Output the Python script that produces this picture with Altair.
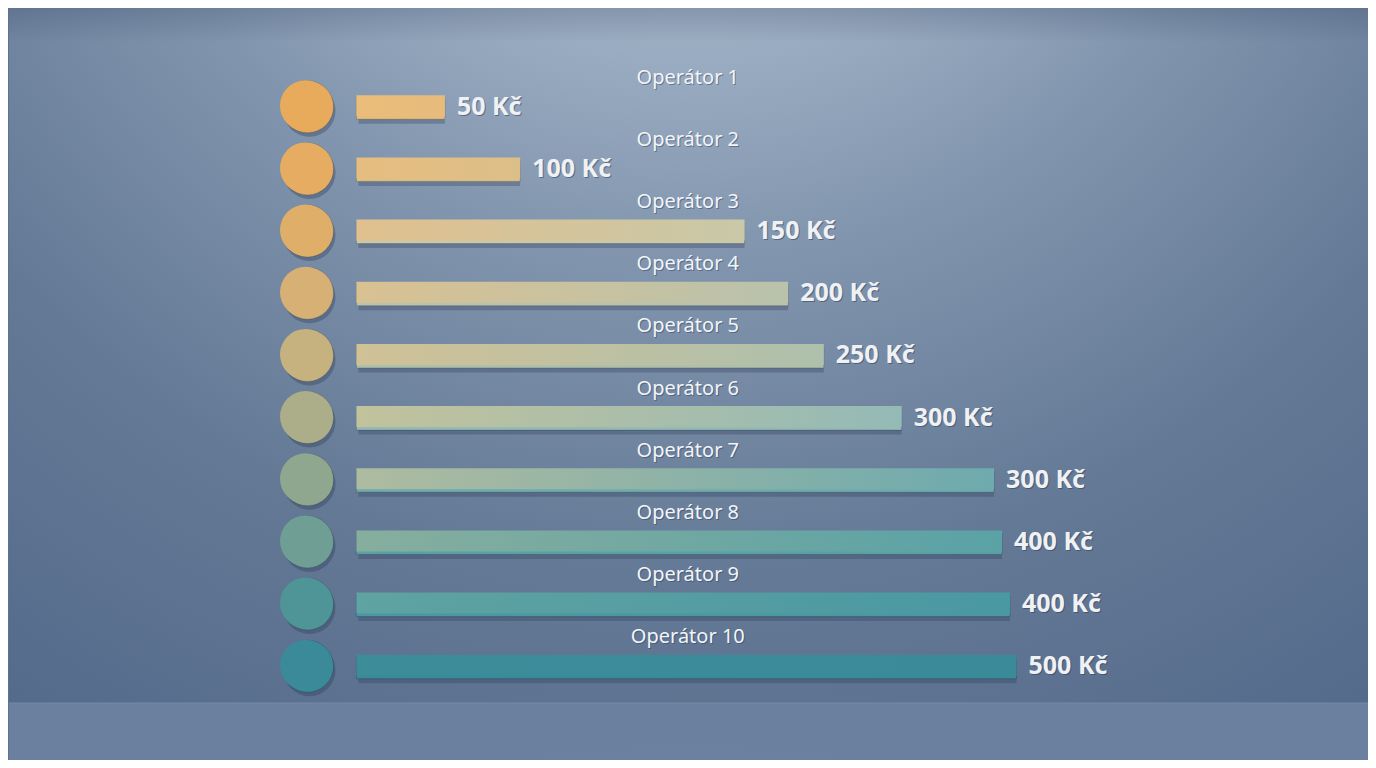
import altair as alt
import pandas as pd

# ---- data ----
operators = ["Operátor 1", "Operátor 2", "Operátor 3", "Operátor 4", "Operátor 5",
             "Operátor 6", "Operátor 7", "Operátor 8", "Operátor 9", "Operátor 10"]
value_labels = ["50 Kč", "100 Kč", "150 Kč", "200 Kč", "250 Kč",
                "300 Kč", "300 Kč", "400 Kč", "400 Kč", "500 Kč"]
# drawn bar lengths as they appear in the picture (500 Kč bar = 500 units)
bar_lengths = [67, 124, 294, 327, 354, 413, 483, 489, 495, 500]
ranks = [1, 2, 3, 4, 5, 6, 7, 8, 9, 10]

df = pd.DataFrame({"operator": operators, "label": value_labels,
                   "length": bar_lengths, "rank": ranks})

W, H = 1360, 752

# ---- styles ----
bar_left = ["#ebbd7a", "#e6bd80", "#e0c08e", "#d9c192", "#d0c196",
            "#c2c29c", "#aebba0", "#86ae9e", "#5fa3a2", "#3c8c9a"]
bar_right = ["#e6bb7c", "#dcbf88", "#c9c8a8", "#b9c2ac", "#aec0ac",
             "#94bab6", "#6eaaae", "#5aa2a6", "#4a98a2", "#3a8a9a"]
circle_col = ["#e8ab5c", "#e6ad62", "#dfaf6a", "#d6b074", "#c6b27f",
              "#abae89", "#8fa78e", "#6f9e94", "#4f9598", "#3a8a9a"]

xs = alt.Scale(domain=[-263.2, 765.5], nice=False, zero=False)
ys = alt.Scale(domain=[-0.492, 11.444], reverse=True, nice=False, zero=False)
Y = alt.Y("rank:Q", scale=ys, axis=None)

one = pd.DataFrame({"a": [0]})

wall = alt.Chart(one).mark_rect(color={
    "gradient": "radial", "x1": 0.5, "y1": 0.0, "r1": 0,
    "x2": 0.5, "y2": 0.0, "r2": 0.95,
    "stops": [{"offset": 0, "color": "#c4d2df"},
              {"offset": 0.2, "color": "#a9bacc"},
              {"offset": 0.45, "color": "#8195ae"},
              {"offset": 0.7, "color": "#647995"},
              {"offset": 1, "color": "#52688a"}]}).encode(
    x=alt.value(0), x2=alt.value(W), y=alt.value(0), y2=alt.value(695))

# slight darkening along the top edge
top_shade = alt.Chart(one).mark_rect(color={
    "gradient": "linear", "x1": 0, "y1": 0, "x2": 0, "y2": 1,
    "stops": [{"offset": 0, "color": "rgba(40,55,85,0.22)"},
              {"offset": 1, "color": "rgba(40,55,85,0)"}]}).encode(
    x=alt.value(0), x2=alt.value(W), y=alt.value(0), y2=alt.value(35))

floor = alt.Chart(one).mark_rect(color={
    "gradient": "radial", "x1": 0.5, "y1": 1.3, "r1": 0,
    "x2": 0.5, "y2": 1.3, "r2": 0.8,
    "stops": [{"offset": 0, "color": "#899db5"},
              {"offset": 1, "color": "#6a809e"}]}).encode(
    x=alt.value(0), x2=alt.value(W), y=alt.value(695), y2=alt.value(H))

floor_edge = alt.Chart(one).mark_rule(color="#7589a6", strokeWidth=1).encode(
    x=alt.value(0), x2=alt.value(W), y=alt.value(695))

base = alt.Chart(df)

layers = [wall, top_shade, floor, floor_edge]

# soft shadows of bars
layers.append(base.mark_bar(size=22, color="#2a3956", opacity=0.3,
                            yOffset=7, xOffset=2).encode(
    x=alt.X("zero:Q", scale=xs, axis=None), x2="length:Q", y=Y
).transform_calculate(zero="0"))

# circles: shadow, edge and face
layers.append(base.mark_point(shape="circle", filled=True, size=2704,
                              color="#2a3956", opacity=0.35,
                              xOffset=4, yOffset=5).encode(
    x=alt.datum(-38.6, scale=xs, axis=None), y=Y))
for i in range(10):
    c = base.transform_filter(alt.datum.rank == ranks[i])
    layers.append(c.mark_point(shape="circle", filled=True, size=2704,
                               color=circle_col[i], opacity=1,
                               xOffset=2, yOffset=1, stroke="#000000",
                               strokeOpacity=0.15, strokeWidth=1).encode(
        x=alt.datum(-38.6, scale=xs, axis=None), y=Y))
    layers.append(c.mark_point(shape="circle", filled=True, size=2600,
                               opacity=1, color=circle_col[i]).encode(
        x=alt.datum(-38.6, scale=xs, axis=None), y=Y))

# bars: dark bottom edge and gradient face
for i in range(10):
    c = base.transform_filter(alt.datum.rank == ranks[i]).transform_calculate(zero="0")
    layers.append(c.mark_bar(size=21, color=bar_right[i], opacity=1,
                             yOffset=3, stroke="#000000", strokeOpacity=0.18,
                             strokeWidth=1).encode(
        x=alt.X("zero:Q", scale=xs, axis=None), x2="length:Q", y=Y))
    layers.append(c.mark_bar(size=21, opacity=1, color={
        "gradient": "linear", "x1": 0, "y1": 0, "x2": 1, "y2": 0,
        "stops": [{"offset": 0, "color": bar_left[i]},
                  {"offset": 1, "color": bar_right[i]}]}).encode(
        x=alt.X("zero:Q", scale=xs, axis=None), x2="length:Q", y=Y))

# operator labels (with shadow)
op_font = "Noto Sans"
layers.append(base.mark_text(font=op_font, fontSize=20, color="#2a3956",
                             opacity=0.45, dx=1, dy=-27, align="center",
                             baseline="middle").encode(
    x=alt.datum(251, scale=xs, axis=None), y=Y, text="operator:N"))
layers.append(base.mark_text(font=op_font, fontSize=20, color="#f3f5f8",
                             dy=-28, align="center", baseline="middle").encode(
    x=alt.datum(251, scale=xs, axis=None), y=Y, text="operator:N"))

# value labels (bold, with shadow)
layers.append(base.mark_text(font=op_font, fontSize=25, fontWeight="bold",
                             color="#2a3956", opacity=0.5, dx=13, dy=2,
                             align="left", baseline="middle").encode(
    x=alt.X("length:Q", scale=xs, axis=None), y=Y, text="label:N"))
layers.append(base.mark_text(font=op_font, fontSize=25, fontWeight="bold",
                             color="#f0f1f3", dx=12, dy=1,
                             align="left", baseline="middle").encode(
    x=alt.X("length:Q", scale=xs, axis=None), y=Y, text="label:N"))

chart = alt.layer(*layers).properties(
    width=W, height=H,
    autosize=alt.AutoSizeParams(type="fit", contains="padding"),
    padding=0, background="#5e7393"
).configure_view(stroke=None)

chart.save("out.html", embed_options={"renderer": "svg", "actions": False})
